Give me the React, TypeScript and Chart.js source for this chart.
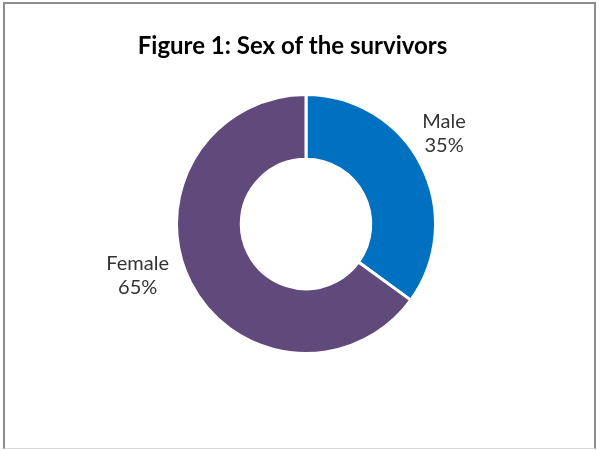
import React, { useEffect, useRef } from "react";
import { Chart, registerables } from "chart.js";

Chart.register(...registerables);

const title = "Figure 1: Sex of the survivors";
const categories = ["Male", "Female"];
const values = [35, 65];
const colors = ["#0070C0", "#604A7B"];
// label anchor (in radii from centre)
const labelAnchors = [
  { dx: 1.066, dy: -0.7 },
  { dx: -1.3, dy: 0.4 },
];

const labelPlugin = {
  id: "customText",
  afterDraw(chart: any) {
    const ctx = chart.ctx;
    ctx.save();
    ctx.fillStyle = "#000000";
    ctx.font = "bold 24px Lato";
    ctx.textAlign = "center";
    ctx.textBaseline = "middle";
    ctx.fillText(title, 292.5, 46);

    const meta = chart.getDatasetMeta(0);
    const total = values.reduce((a, b) => a + b, 0);
    ctx.font = "20px Lato";
    ctx.fillStyle = "#333333";
    meta.data.forEach((arc: any, i: number) => {
      const R = arc.outerRadius;
      const x = arc.x + labelAnchors[i].dx * R;
      const y = arc.y + labelAnchors[i].dy * R;
      const pct = Math.round((values[i] / total) * 100) + "%";
      ctx.fillText(categories[i], x, y - 12);
      ctx.fillText(pct, x, y + 12);
    });
    ctx.restore();
  },
};

export default function App() {
  const ref = useRef<HTMLCanvasElement>(null);
  useEffect(() => {
    document.body.style.margin = "0";
    const chart = new Chart(ref.current!, {
      type: "doughnut",
      data: {
        labels: categories,
        datasets: [
          {
            data: values,
            backgroundColor: colors,
            borderColor: "#ffffff",
            borderWidth: 3,
          },
        ],
      },
      options: {
        animation: false,
        responsive: false,
        cutout: "50%",
        layout: { padding: { top: 93, bottom: 95, left: 175, right: 163 } },
        plugins: {
          legend: { display: false },
          tooltip: { enabled: false },
          title: { display: false },
        },
      },
      plugins: [labelPlugin],
    });
    return () => chart.destroy();
  }, []);
  return (
    <div style={{ position: "fixed", left: 0, top: 0, width: 600, height: 450, background: "#fff" }}>
      <canvas ref={ref} width={600} height={450} style={{ position: "absolute", left: 0, top: 0 }} />
      <div
        style={{
          position: "absolute",
          left: 3,
          top: 2,
          width: 593,
          height: 447,
          borderLeft: "2px solid #8c8c8c",
          borderTop: "2px solid #8c8c8c",
          borderRight: "2px solid #8c8c8c",
          borderBottom: "1px solid #d9d9d9",
          boxSizing: "border-box",
          pointerEvents: "none",
        }}
      />
    </div>
  );
}
